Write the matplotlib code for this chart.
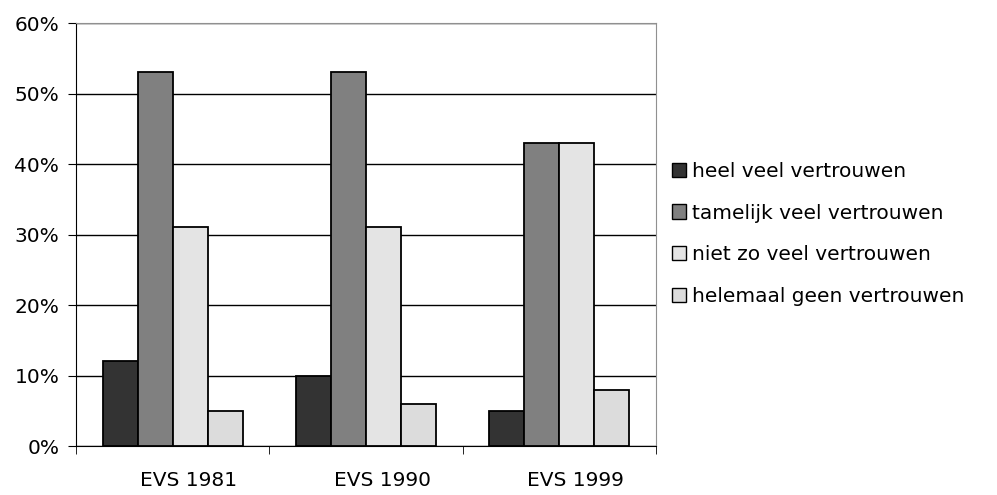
import matplotlib
matplotlib.use("Agg")
import matplotlib.pyplot as plt
import matplotlib.transforms as mtransforms
import numpy as np
from matplotlib.ticker import FixedLocator, NullFormatter

categories = ["EVS 1981", "EVS 1990", "EVS 1999"]
series_names = ["heel veel vertrouwen", "tamelijk veel vertrouwen",
                "niet zo veel vertrouwen", "helemaal geen vertrouwen"]
heel_veel = [12, 10, 5]
tamelijk = [53, 53, 43]
niet_zo = [31, 31, 43]
helemaal_geen = [5, 6, 8]
yticks = [0, 10, 20, 30, 40, 50, 60]
colors = ["#333333", "#808080", "#e4e4e4", "#dcdcdc"]

plt.rcParams['font.family'] = ['DejaVu Sans']
FS = 14.5
fig = plt.figure(figsize=(9.97, 4.95), dpi=100)
ax = fig.add_axes([76 / 997, 1 - 446 / 495, (656 - 76) / 997, (446 - 23) / 495])

data = [heel_veel, tamelijk, niet_zo, helemaal_geen]
x = np.arange(len(categories)) + 0.5
w = 0.181
for i, (vals, c, name) in enumerate(zip(data, colors, series_names)):
    ax.bar(x + (i - 1.5) * w, vals, w, color=c, edgecolor="black",
           linewidth=1.3, label=name, zorder=3)

ax.set_xlim(0, 3)
ax.set_ylim(0, 60)
ax.set_yticks(yticks)
ax.set_yticklabels([f"{v}%" for v in yticks], fontsize=FS)
ax.yaxis.grid(True, color="black", linewidth=1, zorder=0)
ax.set_xticks(x)
ax.set_xticklabels(categories, fontsize=FS)
ax.tick_params(axis="x", which="major", length=0, pad=18)
shift = mtransforms.ScaledTranslation(16 / 100, 0, fig.dpi_scale_trans)
for lbl in ax.get_xticklabels():
    lbl.set_transform(lbl.get_transform() + shift)
ax.xaxis.set_minor_locator(FixedLocator([0, 1, 2, 3]))
ax.xaxis.set_minor_formatter(NullFormatter())
ax.tick_params(axis="x", which="minor", length=6, direction="out", color="black")
ax.tick_params(axis="y", length=6, direction="out", pad=6)
for s in ["top", "right"]:
    ax.spines[s].set_color("#909090")
for s in ["left", "bottom"]:
    ax.spines[s].set_color("black")

leg = ax.legend(loc="upper left", frameon=False,
                fontsize=FS, handlelength=0.7, handleheight=0.7,
                handletextpad=0.3, labelspacing=1.12, borderpad=0,
                borderaxespad=0)
leg.set_bbox_to_anchor((1 + (672 - 656) / 580, 1 - (162 - 23) / 423), transform=ax.transAxes)
for h in leg.legend_handles:
    h.set_linewidth(1.0)

fig.savefig("out.png", dpi=100)
